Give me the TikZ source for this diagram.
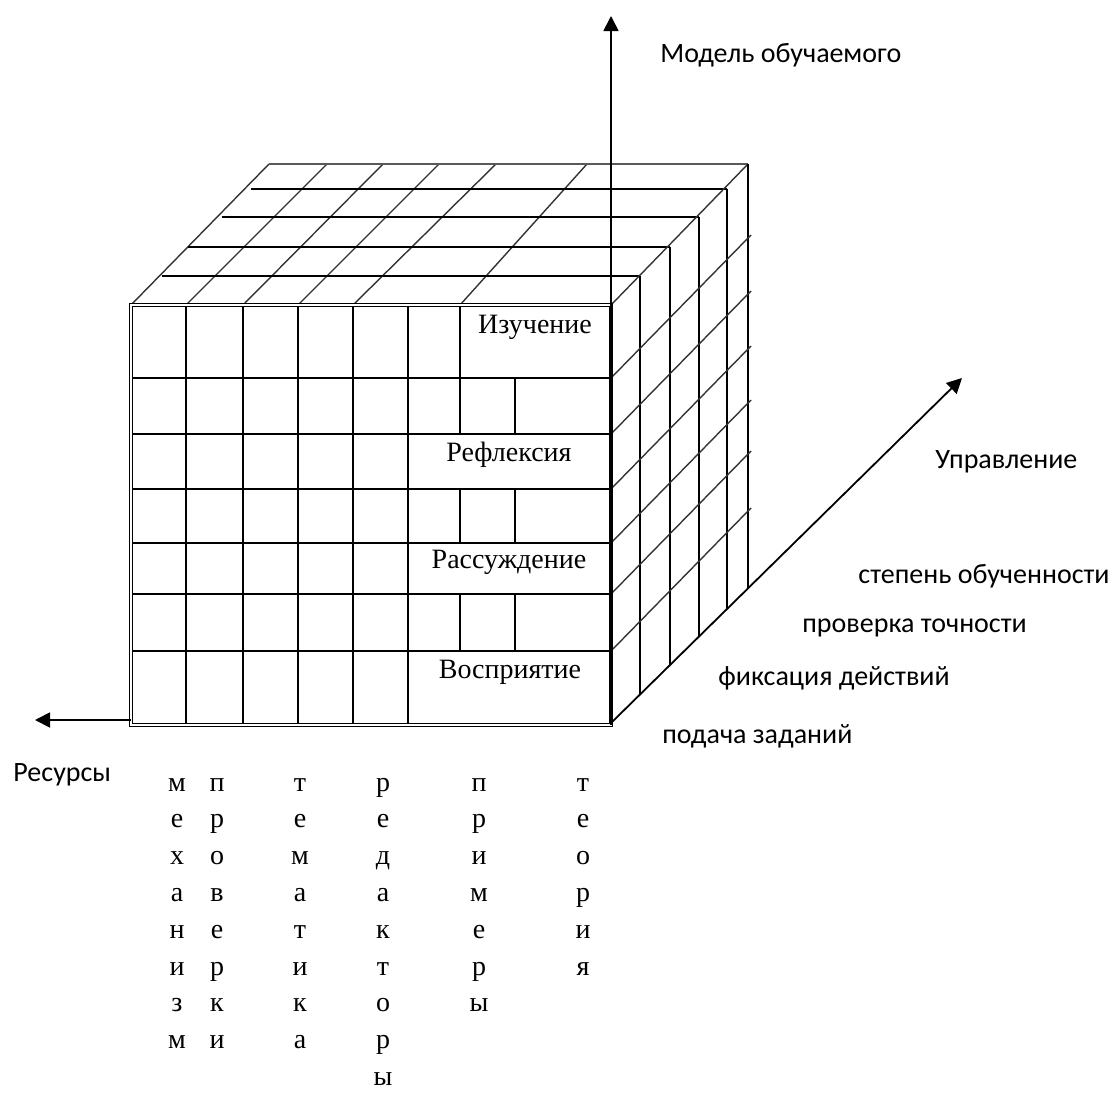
\documentclass[tikz,border=0pt]{standalone}
\usepackage{fontspec}
\setmainfont{Liberation Serif}
\newfontfamily\sansf{Carlito}
\usetikzlibrary{arrows.meta}
\begin{document}
\begin{tikzpicture}[x=0.5pt,y=-0.5pt,
  grid/.style={line width=0.8pt, black},
  diag/.style={line width=0.7pt, black!80},
  axisline/.style={line width=0.9pt, -{Triangle[length=7.5pt,width=7.5pt]}},
  serlab/.style={font=\fontsize{14pt}{17pt}\selectfont, anchor=base, inner sep=0pt},
  sanlab/.style={font=\sansf\fontsize{14pt}{17pt}\selectfont, anchor=base west, inner sep=0pt},
  vl/.style={font=\fontsize{14pt}{17pt}\selectfont, anchor=base, inner sep=0pt}]
\useasboundingbox (0,0) rectangle (1115,1093);

% corners
\coordinate (FTL) at (131,305);
\coordinate (FTR) at (611,305);
\coordinate (FBL) at (131,725);
\coordinate (FBR) at (611,725);
\coordinate (BTL) at (269,164);
\coordinate (BTR) at (748,164);
\coordinate (BBR) at (748,588);
\coordinate (AxBase) at (611,723);
\coordinate (TipUp) at (611,16);
\coordinate (TipLeft) at (35,720);
\coordinate (ResStart) at (131,720);
\coordinate (TipRight) at (962,378);

% top face
\draw[diag] (FTL) -- (BTL);
\foreach \a/\b in {186/327, 243/383, 298/439, 353/496, 460/587}
  \draw[diag] (\a,305) -- (\b,164);
\foreach \y/\l/\r in {276/162/640, 247/188/670, 217/222/699, 189/251/727}
  \draw[grid] (\l,\y) -- (\r,\y);
\draw[line width=1.1pt, black!65] (BTL) -- (BTR);
\draw[diag] (FTR) -- (BTR);

% right face
\foreach \x/\t/\b in {640/276/694.5, 670/247/665, 699/217/636.5, 727/189/609}
  \draw[grid] (\x,\t) -- (\x,\b);
\draw[grid] (BTR) -- (BBR);
\foreach \y in {378,434,489,543,594,651}
  \draw[diag] (611,\y) -- (751,\y-143);

% front face
\foreach \y in {378,434,489,543,594,651}
  \draw[grid] (131,\y) -- (611,\y);
\foreach \x in {186,243,298,353,408}
  \draw[grid] (\x,305) -- (\x,725);
\draw[grid] (460,305) -- (460,434);
\draw[grid] (515,378) -- (515,434);
\draw[grid] (460,489) -- (460,543);
\draw[grid] (515,489) -- (515,543);
\draw[grid] (460,594) -- (460,651);
\draw[grid] (515,594) -- (515,651);
\draw[line width=0.55pt, double, double distance=0.8pt] (FTL) rectangle (FBR);

% axes
\draw[axisline] (FBR) -- (TipUp);
\draw[axisline] (ResStart) -- (TipLeft);
\draw[axisline] (AxBase) -- (TipRight);

% front labels
\node[serlab] (izu) at (535,333) {Изучение};
\node[serlab] (ref) at (509,461) {Рефлексия};
\node[serlab] (ras) at (509,568) {Рассуждение};
\node[serlab] (vos) at (510,678) {Восприятие};

% axis labels
\node[sanlab] (model) at (660,62) {Модель обучаемого};
\node[sanlab] (upr) at (935,468) {Управление};
\node[sanlab] (st) at (858,583) {степень обученности};
\node[sanlab] (pt) at (802,632) {проверка точности};
\node[sanlab] (fd) at (718,685) {фиксация действий};
\node[sanlab] (pz) at (662,743) {подача заданий};
\node[sanlab] (res) at (13,781) {Ресурсы};

% vertical words
\foreach \ch [count=\i] in {м,е,х,а,н,и,з,м}
  \node[vl] (wa\i) at (177,{791+36.8*(\i-1)}) {\ch};
\foreach \ch [count=\i] in {п,р,о,в,е,р,к,и}
  \node[vl] (wb\i) at (217,{791+36.8*(\i-1)}) {\ch};
\foreach \ch [count=\i] in {т,е,м,а,т,и,к,а}
  \node[vl] (wc\i) at (300,{791+36.8*(\i-1)}) {\ch};
\foreach \ch [count=\i] in {р,е,д,а,к,т,о,р,ы}
  \node[vl] (wd\i) at (383,{791+36.8*(\i-1)}) {\ch};
\foreach \ch [count=\i] in {п,р,и,м,е,р,ы}
  \node[vl] (we\i) at (479,{791+36.8*(\i-1)}) {\ch};
\foreach \ch [count=\i] in {т,е,о,р,и,я}
  \node[vl] (wf\i) at (583,{791+36.8*(\i-1)}) {\ch};
\end{tikzpicture}
\end{document}
